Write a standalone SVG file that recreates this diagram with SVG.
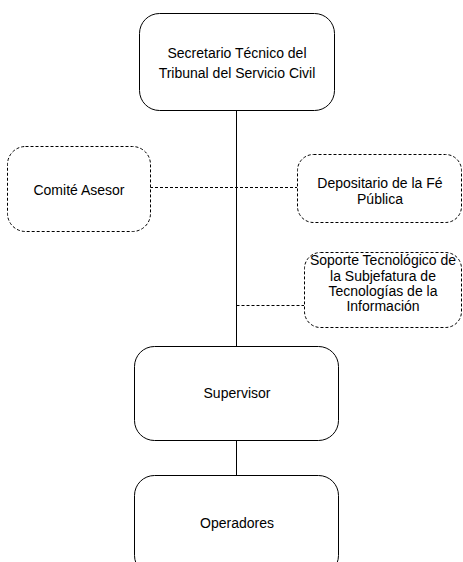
<svg xmlns="http://www.w3.org/2000/svg" width="463" height="562" viewBox="0 0 463 562">
<style>
.box{fill:#fff;stroke:#000;stroke-width:1}
.dbox{fill:#fff;stroke:#000;stroke-width:1;stroke-dasharray:3,2}
.ln{stroke:#000;stroke-width:1;fill:none}
.dln{stroke:#000;stroke-width:1;fill:none;stroke-dasharray:3,2}
text{font-family:"Liberation Sans",Arial,sans-serif;font-size:14px;fill:#000;text-anchor:middle;dominant-baseline:central}
</style>
<rect width="463" height="562" fill="#fff"/>
<g id="connectors">
<line class="ln" x1="236.5" y1="111" x2="236.5" y2="346"/>
<line class="ln" x1="236.5" y1="440" x2="236.5" y2="475"/>
<line class="dln" x1="150" y1="187.5" x2="297" y2="187.5"/>
<line class="dln" x1="236.5" y1="305.5" x2="304" y2="305.5"/>
</g>
<g id="secretario">
<rect class="box" x="139.5" y="13.5" width="195" height="97" rx="20"/>
<text x="237" y="53">Secretario Técnico del</text>
<text x="237" y="73">Tribunal del Servicio Civil</text>
</g>
<g id="comite">
<rect class="dbox" x="7.5" y="146.5" width="143" height="85" rx="18"/>
<text x="79" y="190">Comité Asesor</text>
</g>
<g id="depositario">
<rect class="dbox" x="297.5" y="154.5" width="164" height="68" rx="16"/>
<text x="380" y="183">Depositario de la Fé</text>
<text x="380" y="199">Pública</text>
</g>
<g id="soporte">
<rect class="dbox" x="304.5" y="252.5" width="157" height="75" rx="16"/>
<text x="383" y="260">Soporte Tecnológico de</text>
<text x="383" y="276">la Subjefatura de</text>
<text x="383" y="291">Tecnologías de la</text>
<text x="383" y="306">Información</text>
</g>
<g id="supervisor">
<rect class="box" x="134.5" y="346.5" width="204" height="94" rx="20"/>
<text x="237" y="393">Supervisor</text>
</g>
<g id="operadores">
<rect class="box" x="134.5" y="475.5" width="204" height="100" rx="20"/>
<text x="237" y="523">Operadores</text>
</g>
</svg>
